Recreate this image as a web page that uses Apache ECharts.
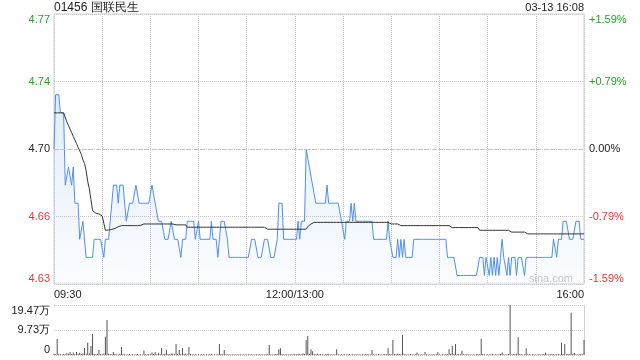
<!DOCTYPE html>
<html><head><meta charset="utf-8">
<script src="https://cdn.jsdelivr.net/npm/echarts@6/dist/echarts.min.js"></script>
<style>html,body{margin:0;padding:0;background:#fff}#c{width:640px;height:360px}</style>
</head><body><div id="c"></div>
<script>
const stockTitle = '01456 国联民生';
const dateTime = '03-13 16:08';
const watermark = 'sina.com';
const prevClose = 4.70;
const pctRange = 1.59;
const volMax = 194700;
const timeTickPos = [0, 150, 330];
const timeTickText = ['09:30', '12:00/13:00', '16:00'];
const priceTickText = ['4.63', '4.66', '4.70', '4.74', '4.77'];
const pctTickText = ['-1.59%', '-0.79%', '0.00%', '+0.79%', '+1.59%'];
const volTickText = ['0', '9.73万', '19.47万'];

const prices = [
4.70,4.73,4.73,4.73,4.72,4.72,4.72,4.68,4.68,4.69,
4.69,4.68,4.69,4.67,4.67,4.67,4.65,4.65,4.66,4.66,
4.64,4.64,4.64,4.64,4.64,4.65,4.65,4.65,4.65,4.65,
4.65,4.64,4.65,4.65,4.65,4.66,4.67,4.68,4.68,4.68,
4.67,4.68,4.68,4.68,4.67,4.66,4.66,4.67,4.67,4.67,
4.67,4.68,4.68,4.67,4.67,4.67,4.67,4.67,4.67,4.67,
4.67,4.68,4.68,4.67,4.67,4.66,4.66,4.66,4.66,4.65,
4.65,4.65,4.65,4.66,4.66,4.65,4.65,4.65,4.65,4.64,
4.65,4.65,4.65,4.66,4.66,4.66,4.66,4.66,4.65,4.65,
4.66,4.65,4.65,4.65,4.65,4.65,4.65,4.65,4.66,4.65,
4.65,4.65,4.64,4.65,4.66,4.66,4.66,4.66,4.65,4.64,
4.64,4.64,4.64,4.64,4.64,4.64,4.64,4.64,4.64,4.64,
4.64,4.64,4.64,4.65,4.65,4.65,4.65,4.64,4.64,4.64,
4.64,4.65,4.65,4.65,4.65,4.64,4.64,4.64,4.64,4.65,
4.67,4.67,4.67,4.65,4.65,4.65,4.65,4.65,4.65,4.65,
4.65,4.65,4.66,4.65,4.66,4.66,4.66,4.70,4.70,4.69,
4.69,4.68,4.68,4.67,4.67,4.67,4.67,4.67,4.67,4.67,
4.68,4.67,4.67,4.67,4.67,4.67,4.67,4.67,4.67,4.66,
4.66,4.65,4.66,4.66,4.66,4.67,4.66,4.67,4.66,4.66,
4.66,4.66,4.66,4.66,4.66,4.66,4.66,4.66,4.66,4.65,
4.65,4.65,4.65,4.65,4.65,4.65,4.65,4.65,4.66,4.65,
4.65,4.64,4.64,4.64,4.65,4.64,4.65,4.64,4.65,4.64,
4.64,4.64,4.64,4.64,4.65,4.65,4.65,4.65,4.65,4.65,
4.65,4.65,4.65,4.65,4.65,4.65,4.65,4.65,4.65,4.65,
4.65,4.65,4.65,4.65,4.65,4.64,4.64,4.64,4.64,4.64,
4.64,4.63,4.63,4.63,4.63,4.63,4.63,4.63,4.63,4.63,
4.63,4.63,4.63,4.63,4.63,4.64,4.64,4.64,4.63,4.64,
4.64,4.63,4.64,4.63,4.64,4.63,4.64,4.63,4.64,4.65,
4.64,4.64,4.63,4.64,4.63,4.64,4.64,4.64,4.63,4.64,
4.64,4.64,4.64,4.63,4.64,4.64,4.64,4.64,4.64,4.64,
4.64,4.64,4.64,4.64,4.64,4.64,4.64,4.64,4.64,4.64,
4.64,4.65,4.65,4.64,4.65,4.65,4.65,4.66,4.66,4.66,
4.66,4.65,4.65,4.65,4.65,4.66,4.66,4.66,4.65,4.65,
4.65
];

const avgPrices = [
4.720,4.720,4.720,4.720,4.720,4.720,4.720,4.719,4.715,4.713,
4.711,4.709,4.707,4.705,4.703,4.701,4.699,4.697,4.694,4.692,
4.688,4.682,4.678,4.672,4.666,4.665,4.6645,4.664,4.664,4.6635,
4.663,4.659,4.655,4.655,4.6552,4.6555,4.6555,4.6558,4.656,4.656,
4.657,4.6576,4.6576,4.6576,4.6576,4.6576,4.6576,4.6576,4.6576,4.6576,
4.6576,4.6576,4.6576,4.6578,4.6578,4.658,4.6585,4.6585,4.6585,4.6585,
4.6585,4.6585,4.6585,4.6585,4.6585,4.6585,4.6585,4.6585,4.6585,4.6585,
4.6585,4.6585,4.6585,4.6585,4.6585,4.658,4.658,4.658,4.658,4.658,
4.658,4.658,4.658,4.6567,4.6567,4.6567,4.6567,4.6567,4.6567,4.6567,
4.6567,4.6567,4.6567,4.6567,4.6567,4.6567,4.6567,4.6567,4.6567,4.6567,
4.6567,4.6567,4.6567,4.6567,4.6567,4.6567,4.6567,4.6567,4.6567,4.6567,
4.6567,4.6567,4.6567,4.6567,4.6567,4.6567,4.6567,4.6567,4.6567,4.6567,
4.6567,4.6567,4.6567,4.6567,4.6567,4.6567,4.6567,4.6567,4.6567,4.6567,
4.6567,4.6567,4.6556,4.6556,4.6556,4.6556,4.6556,4.6556,4.6556,4.6556,
4.6556,4.6556,4.6556,4.6556,4.6556,4.6556,4.6556,4.6556,4.6556,4.6556,
4.6556,4.6556,4.6556,4.6556,4.6556,4.6556,4.6556,4.6556,4.657,4.658,
4.6585,4.6594,4.6594,4.6594,4.6594,4.6594,4.6594,4.6594,4.6594,4.6594,
4.6594,4.6594,4.6594,4.6594,4.6594,4.6594,4.6594,4.6594,4.6594,4.6594,
4.6594,4.6594,4.6594,4.6594,4.6594,4.6594,4.6594,4.6594,4.6594,4.6594,
4.6594,4.6594,4.6594,4.6594,4.6594,4.6594,4.6594,4.6594,4.6594,4.6594,
4.6594,4.6594,4.6594,4.6594,4.6594,4.6594,4.6594,4.6594,4.6594,4.6594,
4.6585,4.6585,4.6585,4.6585,4.6585,4.6585,4.6576,4.6576,4.6576,4.6576,
4.6576,4.6576,4.6576,4.6576,4.6576,4.6576,4.6576,4.6576,4.6576,4.6576,
4.6576,4.6576,4.6576,4.6576,4.6576,4.6576,4.6576,4.6576,4.6576,4.6576,
4.6576,4.6576,4.6576,4.6576,4.6576,4.6576,4.6576,4.6576,4.6565,4.6565,
4.6565,4.6565,4.6565,4.6565,4.6565,4.6565,4.6565,4.6565,4.6565,4.6565,
4.6565,4.6565,4.6565,4.6565,4.6565,4.655,4.655,4.655,4.655,4.655,
4.655,4.655,4.655,4.655,4.655,4.655,4.655,4.655,4.655,4.655,
4.655,4.655,4.655,4.655,4.654,4.654,4.654,4.654,4.654,4.654,
4.654,4.654,4.654,4.654,4.653,4.653,4.653,4.653,4.653,4.653,
4.653,4.653,4.653,4.653,4.653,4.653,4.653,4.653,4.653,4.653,
4.653,4.653,4.653,4.653,4.653,4.653,4.653,4.653,4.653,4.653,
4.653,4.653,4.653,4.653,4.653,4.653,4.653,4.653,4.653,4.653,
4.653
];

const volumes = [
5000,3000,62000,4000,3000,2000,4000,3000,8000,5000,
12000,4000,10000,3000,12000,5000,9000,4000,6000,27000,
5000,48000,6000,35000,82000,4000,3000,5000,19000,4000,
3000,6000,71000,136000,5000,4000,3000,12000,4000,3000,
2000,5000,31000,4000,3000,2000,3000,4000,2000,3000,
2000,3000,4000,2000,3000,2000,18000,3000,2000,4000,
3000,10000,4000,12000,3000,9000,4000,27000,3000,5000,
20000,4000,3000,6000,5000,3000,43000,4000,19000,3000,
26000,4000,5000,3000,31000,4000,3000,2000,3000,2000,
3000,2000,4000,3000,2000,3000,2000,3000,4000,2000,
3000,2000,3000,43000,4000,3000,19000,3000,2000,3000,
2000,3000,2000,2000,3000,2000,3000,2000,2000,3000,
2000,3000,2000,3000,2000,2000,3000,2000,3000,2000,
3000,2000,4000,3000,39000,3000,2000,3000,4000,3000,
22000,26000,4000,3000,2000,3000,2000,3000,2000,3000,
4000,3000,5000,4000,3000,6000,4000,58000,74000,5000,
22000,15000,4000,3000,5000,3000,4000,3000,2000,3000,
4000,3000,2000,3000,2000,3000,22000,3000,2000,3000,
2000,3000,2000,3000,4000,2000,3000,2000,3000,2000,
3000,2000,3000,2000,3000,4000,3000,2000,19000,3000,
2000,3000,4000,3000,2000,3000,4000,3000,26000,4000,
3000,58000,4000,3000,5000,4000,3000,78000,4000,3000,
2000,3000,4000,3000,2000,3000,10000,3000,2000,3000,
2000,12000,3000,2000,3000,2000,3000,2000,3000,12000,
3000,2000,3000,2000,4000,3000,22000,4000,35000,4000,
43000,3000,4000,3000,17000,3000,2000,3000,2000,3000,
2000,3000,2000,3000,4000,3000,63000,4000,3000,2000,
3000,2000,3000,4000,2000,3000,2000,3000,4000,10000,
3000,2000,3000,4000,194700,3000,4000,3000,5000,69000,
4000,3000,2000,3000,26000,4000,3000,2000,3000,2000,
3000,2000,3000,2000,3000,4000,10000,3000,2000,3000,
4000,3000,2000,3000,4000,3000,48000,4000,43000,3000,
4000,3000,165000,4000,8000,3000,2000,3000,4000,3000,
58000
];

const GREEN = '#22a322', RED = '#ee3333', DARK = '#222';
const FONT = '"Liberation Sans", Arial, sans-serif';
const priceMin = prevClose * (1 - pctRange / 100);
const priceMax = prevClose * (1 + pctRange / 100);
const lastIdx = prices.length - 1;

function levelColor(v) {
  const n = Math.round(Number(v));
  return n > 0 ? GREEN : (n < 0 ? RED : DARK);
}
const gridLine = { show: true, lineStyle: { type: 'dotted', color: '#c8c8c8', width: 1 } };

const chart = echarts.init(document.getElementById('c'), null, { renderer: 'canvas' });
chart.setOption({
  animation: false,
  backgroundColor: '#fff',
  textStyle: { fontFamily: FONT },
  title: [
    { text: stockTitle, left: 54, top: 2, padding: 0,
      textStyle: { fontSize: 12, fontWeight: 'normal', color: '#222', fontFamily: FONT } },
    { text: dateTime, right: 56, top: 2, padding: 0,
      textStyle: { fontSize: 11, fontWeight: 'normal', color: '#222', fontFamily: FONT } }
  ],
  graphic: [
    { type: 'text', right: 67, top: 273, silent: true,
      style: { text: watermark, fill: '#c8c8c8', font: '11px ' + FONT } }
  ],
  grid: [
    { left: 54, right: 56, top: 14, height: 270, show: true, borderColor: '#cfcfcf', borderWidth: 1, outerBoundsMode: 'none', containLabel: false },
    { left: 54, right: 56, top: 305, height: 50, outerBoundsMode: 'none', containLabel: false }
  ],
  xAxis: [
    { gridIndex: 0, type: 'value', min: 0, max: lastIdx, interval: 30,
      axisLine: { show: false }, axisTick: { show: false },
      splitLine: gridLine,
      axisLabel: { show: true, margin: 5, fontSize: 11, color: DARK, fontFamily: FONT,
        alignMinLabel: 'left', alignMaxLabel: 'right', showMinLabel: true, showMaxLabel: true,
        formatter: function (v) { const k = timeTickPos.indexOf(v); return k >= 0 ? timeTickText[k] : ''; } } },
    { gridIndex: 1, type: 'value', min: 0, max: lastIdx, interval: 30, show: false,
      splitLine: { show: false } }
  ],
  yAxis: [
    { gridIndex: 0, type: 'value', min: priceMin, max: priceMax, show: false, splitLine: { show: false } },
    { gridIndex: 0, type: 'value', position: 'left', min: -2, max: 2, interval: 1,
      axisLine: { show: false }, axisTick: { show: false }, splitLine: gridLine,
      axisLabel: { margin: 4, fontSize: 11, fontFamily: FONT,
        verticalAlignMinLabel: 'bottom', verticalAlignMaxLabel: 'top',
        color: levelColor,
        formatter: function (v) { return priceTickText[Math.round(v) + 2]; } } },
    { gridIndex: 0, type: 'value', position: 'right', min: -2, max: 2, interval: 1,
      axisLine: { show: false }, axisTick: { show: false }, splitLine: { show: false },
      axisLabel: { margin: 5, fontSize: 11, fontFamily: FONT,
        verticalAlignMinLabel: 'bottom', verticalAlignMaxLabel: 'top',
        color: levelColor,
        formatter: function (v) { return pctTickText[Math.round(v) + 2]; } } },
    { gridIndex: 1, type: 'value', position: 'left', min: 0, max: volMax, interval: volMax / 2,
      axisLine: { show: false }, axisTick: { show: false }, splitLine: gridLine,
      axisLabel: { margin: 4, fontSize: 11, fontFamily: FONT, color: DARK,
        verticalAlignMinLabel: 'bottom', verticalAlignMaxLabel: 'top',
        formatter: function (v) { return volTickText[Math.round(v / (volMax / 2))]; } } },
    { gridIndex: 1, type: 'value', position: 'right', min: 0, max: volMax,
      axisLine: { show: true, lineStyle: { color: '#cfcfcf', width: 1 } },
      axisTick: { show: false }, axisLabel: { show: false }, splitLine: { show: false } }
  ],
  series: [
    { type: 'line', xAxisIndex: 0, yAxisIndex: 0, showSymbol: false, silent: true,
      data: prices.map((p, i) => [i, p]),
      lineStyle: { color: '#4f8ff0', width: 1 },
      areaStyle: { origin: 'start', color: new echarts.graphic.LinearGradient(0, 0, 0, 1, [
        { offset: 0, color: 'rgba(79,143,240,0.24)' },
        { offset: 1, color: 'rgba(79,143,240,0.03)' }
      ]) },
      markLine: { silent: true, symbol: 'none', label: { show: false },
        lineStyle: { type: [4, 3], color: '#c4c4c4', width: 1 },
        data: [{ yAxis: prevClose }] },
      z: 3 },
    { type: 'line', xAxisIndex: 0, yAxisIndex: 0, showSymbol: false, silent: true,
      data: avgPrices.map((p, i) => [i, p]),
      lineStyle: { color: '#333', width: 1 }, z: 4 },
    { type: 'bar', xAxisIndex: 1, yAxisIndex: 3, barWidth: 1, silent: true,
      data: volumes.map((v, i) => [i, v]),
      itemStyle: { color: '#555' } }
  ]
});
</script>
</body></html>
